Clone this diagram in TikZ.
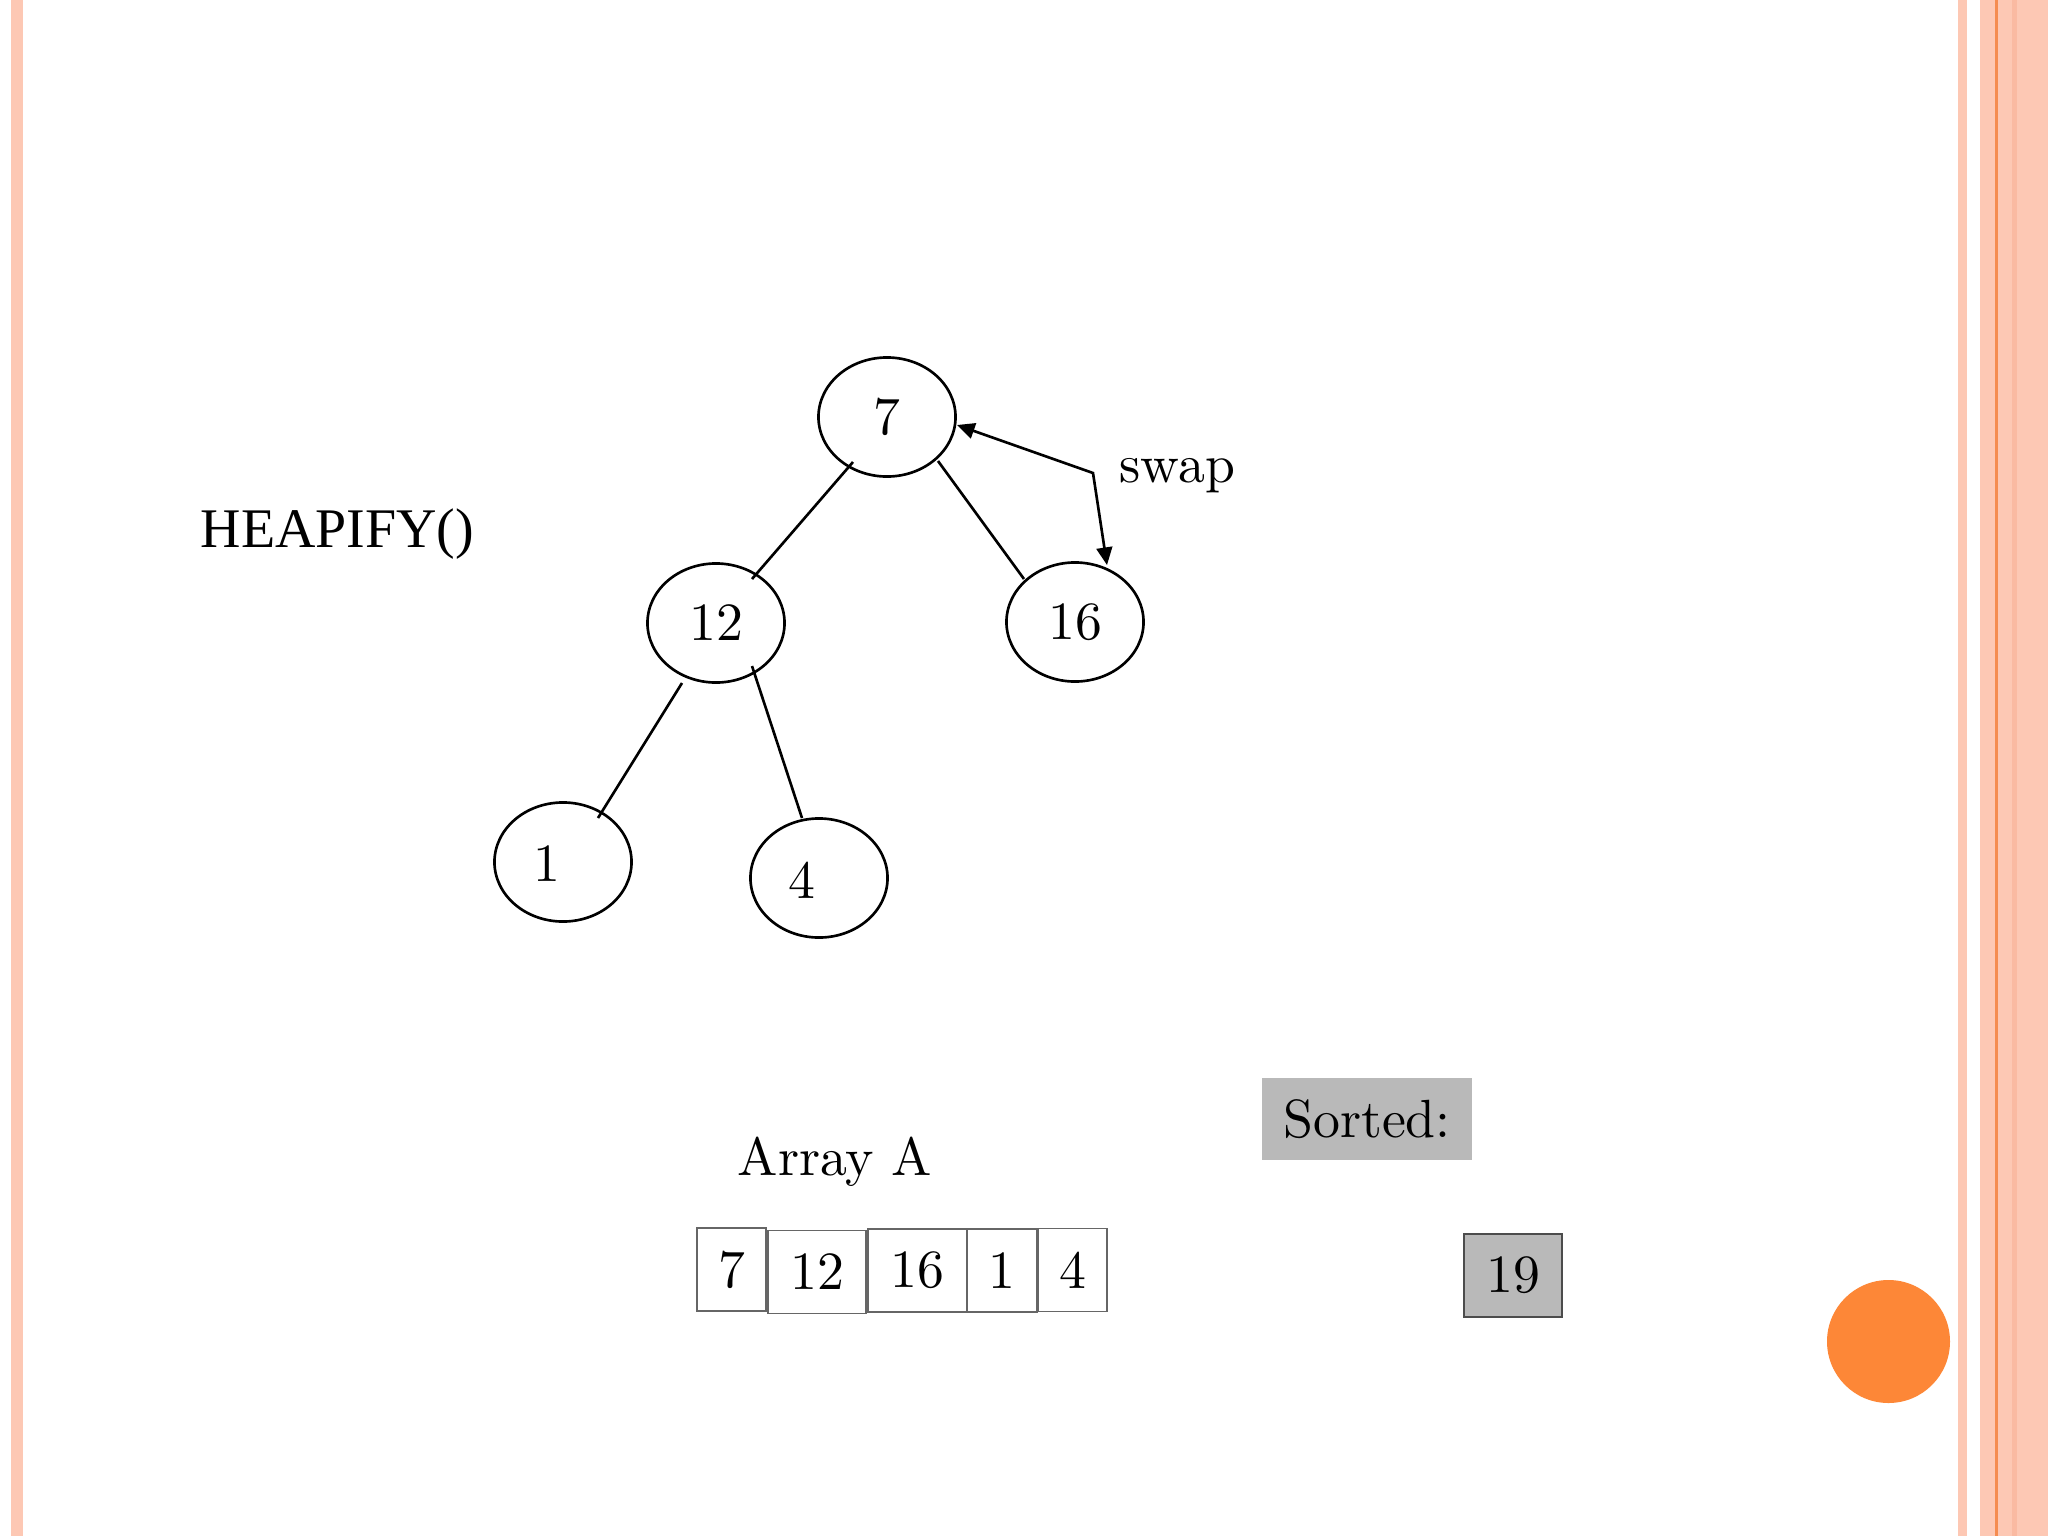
\documentclass[tikz,border=0pt]{standalone}
\usepackage{fontspec}
\setmainfont{lmroman10-regular}[Extension=.otf]
\newfontfamily\timesf{Liberation Serif}
\usetikzlibrary{arrows.meta,calc,shapes.geometric}
\definecolor{salmon}{RGB}{253,200,180}
\definecolor{salmondk}{RGB}{250,186,162}
\definecolor{orangeline}{RGB}{245,140,80}
\definecolor{dotorange}{RGB}{253,135,55}
\definecolor{boxgray}{RGB}{185,185,185}
\begin{document}
\begin{tikzpicture}[x=0.01cm,y=-0.01cm,font=\fontsize{15.3}{18}\selectfont,
  tnode/.style={ellipse,draw,line width=0.75pt,minimum width=1.37cm,minimum height=1.19cm,inner sep=0pt},
  edge/.style={line width=0.75pt},
  cell/.style={rectangle,draw=black!60,line width=0.5pt,inner sep=0pt,minimum height=0.83cm},
  swaparrow/.style={line width=0.75pt,{Triangle[length=5pt,width=4.5pt]}-{Triangle[length=5pt,width=4.5pt]}},
  lbl/.style={inner sep=0pt,anchor=base west}]
% page
\fill[white] (0,0) rectangle (2048,1536);
\useasboundingbox (0,0) rectangle (2048,1536);
% side stripes
\fill[salmon] (11,0) rectangle (23,1536);
\fill[salmon] (1958,0) rectangle (1967,1536);
\fill[salmon] (1980,0) rectangle (2048,1536);
\fill[salmondk] (2012,0) rectangle (2017,1536);
\fill[orangeline] (1995,0) rectangle (1998,1536);
% tree nodes
\node[tnode] (n7) at (887,417) {7};
\node[tnode] (n12) at (716,623) {12};
\node[tnode] (n16) at (1075,622) {16};
\node[tnode] (n1) at (563,862) {};
\node[inner sep=0pt] (t1) at (547,864) {1};
\node[tnode] (n4) at (819,878) {};
\node[inner sep=0pt] (t4) at (802,880) {4};
% tree edges
\draw[edge] ($(n7)+(-34,45)$) -- ($(n12)+(36,-44)$);
\draw[edge] ($(n7)+(51,44)$) -- ($(n16)+(-51,-43)$);
\draw[edge] ($(n12)+(-34,60)$) -- ($(n1)+(35,-44)$);
\draw[edge] ($(n12)+(36,43)$) -- ($(n4)+(-17,-60)$);
% swap arrow
\coordinate (bend) at (1093,473);
\draw[swaparrow] ($(n7)+(70,8)$) -- (bend) -- ($(n16)+(32,-57)$);
\node[lbl] (swap) at (1119,482) {swap};
% title
\node[lbl,font=\timesf\fontsize{15.9}{19}\selectfont] (heap) at (200,547) {HEAPIFY()};
% array
\node[lbl] (arr) at (737,1175) {Array A};
\node[cell,minimum width=0.69cm] (c1) at (731.5,1269.5) {7};
\node[cell,minimum width=0.98cm] (c2) at (817,1272) {12};
\node[cell,minimum width=0.99cm] (c3) at (917.5,1270.5) {16};
\node[cell,minimum width=0.70cm] (c4) at (1002,1270.5) {1};
\node[cell,minimum width=0.69cm] (c5) at (1072.5,1270) {4};
% sorted
\node[rectangle,fill=boxgray,inner sep=0pt,minimum width=2.10cm,minimum height=0.82cm] (sorted) at (1367,1119) {Sorted:};
\node[rectangle,fill=boxgray,draw=black!70,line width=0.5pt,inner sep=0pt,minimum width=0.98cm,minimum height=0.83cm] (s19) at (1513,1275.5) {19};
% orange dot
\fill[dotorange] (1888.5,1341.5) circle[radius=61.5];
\end{tikzpicture}
\end{document}
